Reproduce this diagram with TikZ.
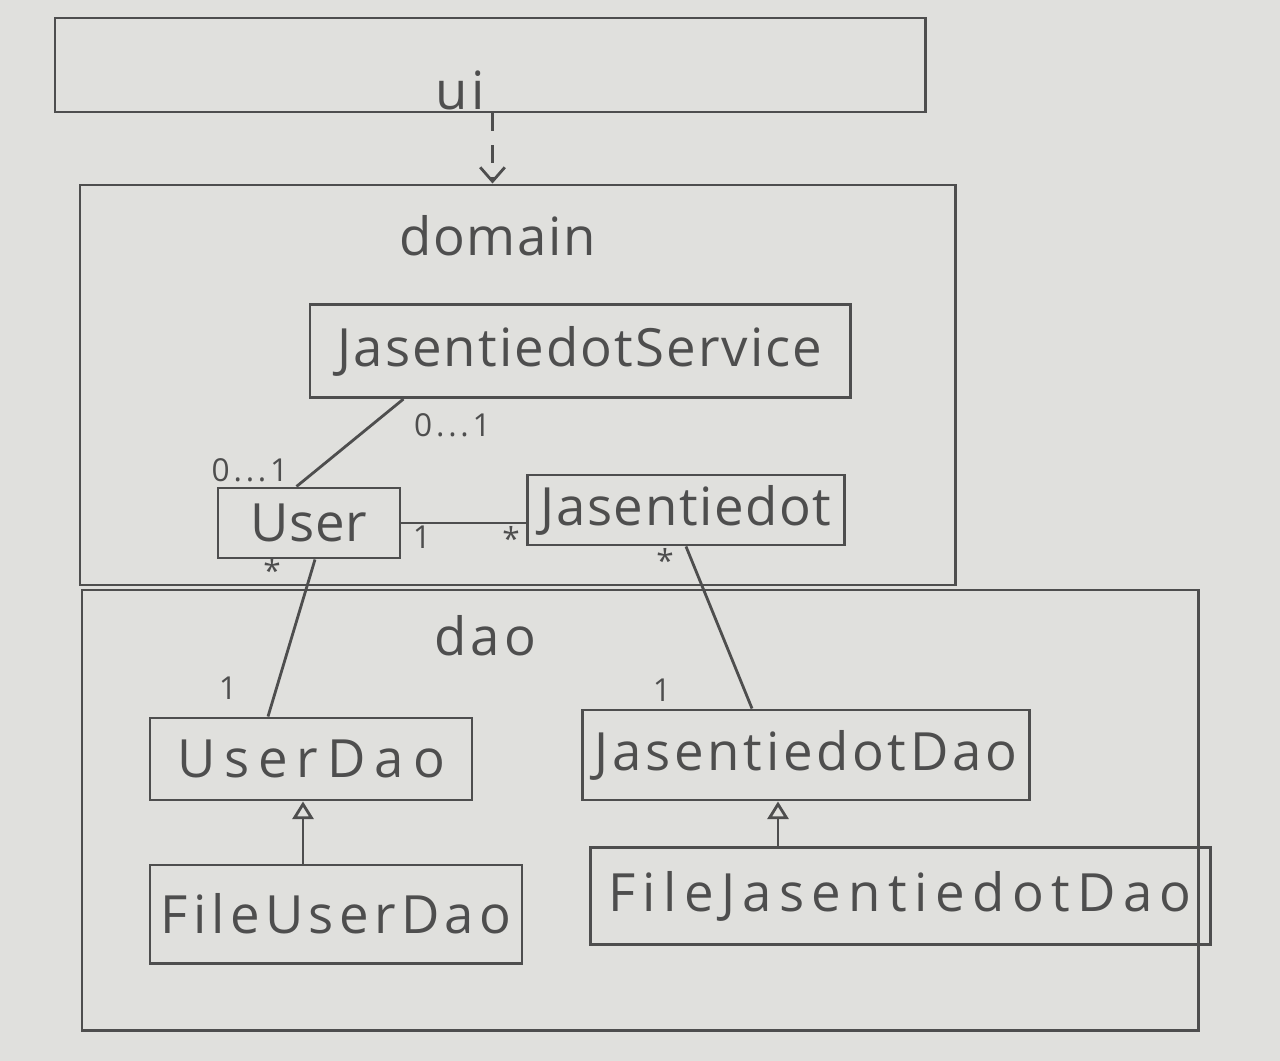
\documentclass[tikz,border=0pt]{standalone}
\usepackage{fontspec}
\setmainfont{Open Sans}
\usetikzlibrary{arrows.meta,calc}
\definecolor{paper}{RGB}{224,224,221}
\definecolor{pencil}{RGB}{78,78,78}
\newcommand{\lsp}[1]{\addfontfeature{LetterSpace=#1}}
\tikzset{
  pkg/.style={draw=pencil, line width=1.7pt, inner sep=0pt},
  cls/.style={draw=pencil, line width=1.7pt, inner sep=0pt, text=pencil, font=\fontsize{30}{32}\selectfont},
  pkgname/.style={text=pencil, font=\fontsize{30}{32}\selectfont},
  mult/.style={text=pencil, font=\fontsize{18}{20}\selectfont},
  assoc/.style={draw=pencil, line width=1.6pt},
  dep/.style={draw=pencil, line width=1.6pt, dashed, dash pattern=on 10pt off 8pt, -{Straight Barb[length=8pt,width=14pt]}},
  inherit/.style={draw=pencil, line width=1.6pt, -{Triangle[open,length=10pt,width=12pt]}}
}
\begin{document}
\begin{tikzpicture}
\fill[paper] (0,0) rectangle (25.6,-21.22);
\useasboundingbox (0,0) rectangle (25.6,-21.22);
% packages
\node[pkg, minimum width=17.4cm, minimum height=1.88cm] (ui) at (9.8,-1.3) {};
\node[pkg, minimum width=17.5cm, minimum height=8.0cm] (domain) at (10.35,-7.7) {};
\node[pkg, minimum width=22.32cm, minimum height=8.8cm] (dao) at (12.8,-16.2) {};
\node[pkgname] (uilbl) at (9.2,-1.8) {\lsp{6}ui};
\node[pkgname] (domainlbl) at (9.95,-4.72) {\lsp{3}domain};
\node[pkgname] (daolbl) at (9.7,-12.72) {\lsp{8}dao};
% classes
\node[cls, minimum width=10.8cm, minimum height=1.86cm] (svc) at (11.6,-7.02) {\lsp{4}JasentiedotService};
\node[cls, minimum width=3.64cm, minimum height=1.4cm] (usr) at (6.18,-10.46) {\lsp{1}User};
\node[cls, minimum width=6.34cm, minimum height=1.4cm] (jas) at (13.72,-10.2) {\lsp{3}Jasentiedot};
\node[cls, minimum width=6.44cm, minimum height=1.64cm] (udao) at (6.22,-15.18) {\lsp{17}UserDao};
\node[cls, minimum width=8.94cm, minimum height=1.8cm] (jdao) at (16.12,-15.1) {\lsp{7}JasentiedotDao};
\node[cls, minimum width=7.44cm, minimum height=1.96cm] (fud) at (6.72,-18.28) {\lsp{10}FileUserDao};
\node[cls, minimum width=12.4cm, minimum height=1.94cm] (fjd) at (18.0,-17.92) {\lsp{14}FileJasentiedotDao};
% dependency
\draw[dep] (ui.south -| 9.85,0) -- (domain.north -| 9.85,0);
% associations
\draw[assoc] ([xshift=1.9cm]svc.south west) -- ([xshift=1.6cm]usr.north west);
\draw[assoc] (usr.east) -- (usr.east -| jas.west);
\draw[assoc] ([xshift=0.12cm]usr.south) -- ([xshift=-0.86cm]udao.north);
\draw[assoc] (jas.south) -- ([xshift=-1.08cm]jdao.north);
% inheritance
\draw[inherit] ([xshift=-0.16cm]udao.south |- fud.north) -- ([xshift=-0.16cm]udao.south);
\draw[inherit] ([xshift=-0.56cm]jdao.south |- fjd.north) -- ([xshift=-0.56cm]jdao.south);
% multiplicities
\node[mult] (m1) at (9.05,-8.5) {\lsp{12}0...1};
\node[mult] (m2) at (5.0,-9.4) {\lsp{12}0...1};
\node[mult] (m3) at (8.44,-10.74) {1};
\node[mult] (m4) at (10.22,-10.76) {*};
\node[mult] (m5) at (5.44,-11.4) {*};
\node[mult] (m6) at (4.56,-13.76) {1};
\node[mult] (m7) at (13.3,-11.2) {*};
\node[mult] (m8) at (13.24,-13.8) {1};
\end{tikzpicture}
\end{document}
